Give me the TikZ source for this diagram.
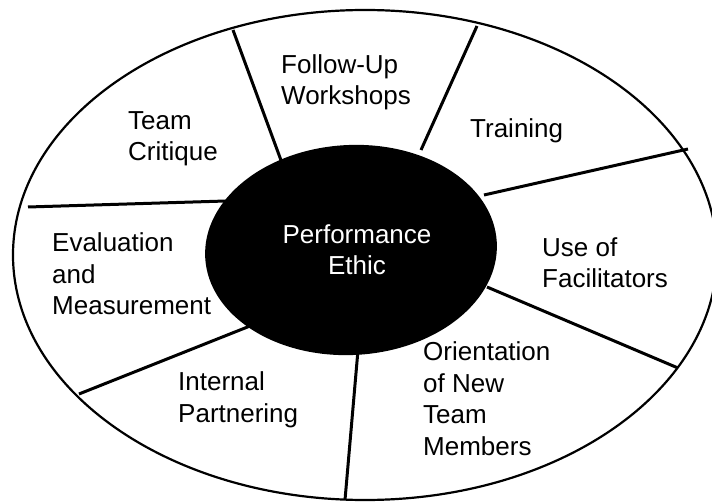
\documentclass[tikz,border=0pt]{standalone}
\usepackage{fontspec}
\setmainfont{Liberation Sans}
\usetikzlibrary{shapes.geometric}
\begin{document}
\begin{tikzpicture}[x=1pt,y=-1pt,
  rim/.style={line width=2.2pt},
  divider/.style={line width=3pt},
  lbl/.style={anchor=base west, align=left, inner sep=0pt, font=\fontsize{26}{31.5}\selectfont},
]
\useasboundingbox (0,0) rectangle (712,502);
\clip (0,0) rectangle (712,502);
\fill[white] (0,0) rectangle (712,502);
\draw[rim] (365,255) ellipse [x radius=352, y radius=245];
% divider end points
\coordinate (d1o) at (233,30);  \coordinate (d1i) at (282,163);
\coordinate (d2o) at (477,26);  \coordinate (d2i) at (421,150);
\coordinate (d3o) at (688,149); \coordinate (d3i) at (484,195);
\coordinate (d4i) at (487,287); \coordinate (d4o) at (678,368);
\coordinate (d5i) at (358,350); \coordinate (d5o) at (345,500);
\coordinate (d6i) at (250,326); \coordinate (d6o) at (79,394);
\coordinate (d7o) at (28,207);  \coordinate (d7i) at (226,201);
\draw[divider] (d1o) -- (d1i);
\draw[divider] (d2o) -- (d2i);
\draw[divider] (d3o) -- (d3i);
\draw[divider] (d4i) -- (d4o);
\draw[divider] (d5i) -- (d5o);
\draw[divider] (d6i) -- (d6o);
\draw[divider] (d7o) -- (d7i);
\node[ellipse, fill=black, minimum width=292pt, minimum height=210pt, inner sep=0pt, rotate=3] (core) at (351,250) {};
% labels: anchor is the baseline of the last line
\node[lbl, anchor=base, align=center, text=white] (ethic) at (357,275) {Performance\\Ethic};
\node[lbl] (critique) at (128,161) {Team\\Critique};
\node[lbl] (followup) at (281,105) {Follow-Up\\Workshops};
\node[lbl] (training) at (470,138) {Training};
\node[lbl] (evaluation) at (52,315) {Evaluation\\and\\Measurement};
\node[lbl] (facilitators) at (542,288) {Use of\\Facilitators};
\node[lbl] (partnering) at (178,422) {Internal\\Partnering};
\node[lbl] (orientation) at (423,455) {Orientation\\of New\\Team\\Members};
\end{tikzpicture}
\end{document}
